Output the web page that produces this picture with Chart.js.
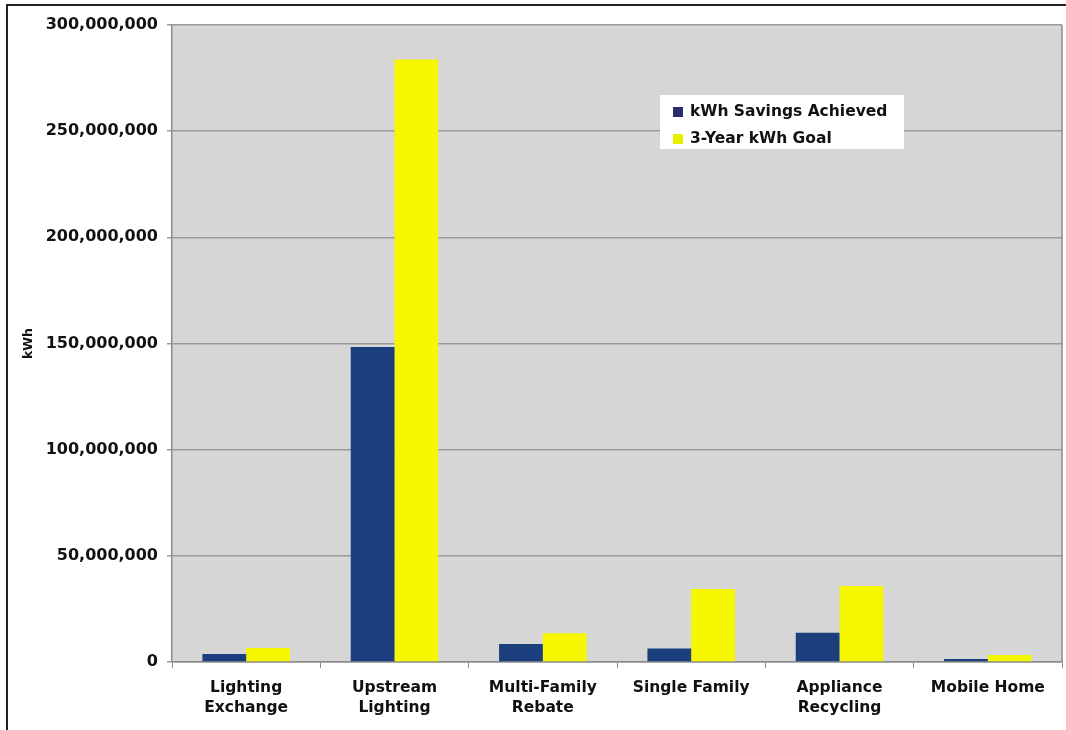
<!DOCTYPE html>
<html>
<head>
<meta charset="utf-8">
<script src="https://cdn.jsdelivr.net/npm/chart.js@4/dist/chart.umd.min.js"></script>
<style>
  body { margin: 0; background: #fff; }
  #wrap { position: relative; width: 1066px; height: 730px; }
  #frame { position: absolute; left: 6px; top: 4px; right: -10px; bottom: -10px;
           border-top: 2px solid #222; border-left: 2px solid #222; }
  canvas { position: absolute; left: 0; top: 0; }
</style>
</head>
<body>
<div id="wrap">
  <div id="frame"></div>
  <canvas id="chart" width="1066" height="730"></canvas>
</div>
<script>
const programas = [
  ["Lighting", "Exchange"],
  ["Upstream", "Lighting"],
  ["Multi-Family", "Rebate"],
  "Single Family",
  ["Appliance", "Recycling"],
  "Mobile Home",
];
const economiaAtingida = [3800000, 148400000, 8500000, 6400000, 13800000, 1400000];
const metaTresAnos = [6600000, 283800000, 13500000, 34400000, 35800000, 3300000];
const ticksY = [0, 50000000, 100000000, 150000000, 200000000, 250000000, 300000000];

const fonte = "'DejaVu Sans', Verdana, sans-serif";

// fundo cinza da area do grafico + borda
const fundoPlot = {
  id: "fundoPlot",
  beforeDraw(chart) {
    const { ctx, chartArea: a } = chart;
    ctx.save();
    ctx.fillStyle = "#d6d6d6";
    ctx.fillRect(a.left, a.top, a.right - a.left, a.bottom - a.top);
    ctx.restore();
  },
  afterDraw(chart) {
    const { ctx, chartArea: a } = chart;
    ctx.save();
    ctx.strokeStyle = "#8a8a8a";
    ctx.lineWidth = 1.5;
    ctx.beginPath();
    ctx.moveTo(a.right, a.top);
    ctx.lineTo(a.right, a.bottom);
    ctx.stroke();
    ctx.restore();
  },
};

// legenda dentro da area do grafico
const legendaInterna = {
  id: "legendaInterna",
  afterDatasetsDraw(chart) {
    const ctx = chart.ctx;
    const x = 660, y = 95, w = 244, h = 54;
    ctx.save();
    ctx.fillStyle = "#ffffff";
    ctx.fillRect(x, y, w, h);
    ctx.font = "bold 15.5px " + fonte;
    ctx.textBaseline = "middle";
    chart.data.datasets.forEach((ds, i) => {
      const cy = y + 17 + i * 27;
      ctx.fillStyle = ds.legendColor || ds.backgroundColor;
      ctx.fillRect(x + 13, cy - 5, 10, 10);
      ctx.fillStyle = "#111";
      ctx.fillText(ds.label, x + 30, cy);
    });
    ctx.restore();
  },
};

new Chart(document.getElementById("chart"), {
  type: "bar",
  data: {
    labels: programas,
    datasets: [
      {
        label: "kWh Savings Achieved",
        data: economiaAtingida,
        backgroundColor: "#1b3f7d",
        legendColor: "#2b2b72",
      },
      {
        label: "3-Year kWh Goal",
        data: metaTresAnos,
        backgroundColor: "#f7f700",
        legendColor: "#e6f000",
      },
    ],
  },
  options: {
    responsive: false,
    animation: false,
    categoryPercentage: 0.59,
    barPercentage: 1,
    layout: { padding: { left: 17, top: 25, right: 4, bottom: 0 } },
    plugins: {
      legend: { display: false },
      tooltip: { enabled: false },
    },
    scales: {
      x: {
        grid: {
          drawOnChartArea: false,
          color: "#8a8a8a",
          tickLength: 6,
        },
        border: { color: "#8a8a8a", width: 1.5 },
        ticks: {
          color: "#111",
          padding: 10,
          maxRotation: 0,
          autoSkip: false,
          font: { family: fonte, weight: "bold", size: 15.5, lineHeight: 1.29 },
        },
        afterFit(scale) { scale.height = 730 - 662; },
      },
      y: {
        min: 0,
        max: 300000000,
        afterBuildTicks(scale) { scale.ticks = ticksY.map(v => ({ value: v })); },
        grid: { color: "#9a9a9a", lineWidth: 1.5, tickLength: 5 },
        border: { color: "#8a8a8a", width: 1.5 },
        ticks: {
          color: "#111",
          padding: 9,
          font: { family: fonte, weight: "bold", size: 16 },
          callback: v => v.toLocaleString("en-US"),
        },
        title: {
          display: true,
          text: "kWh",
          color: "#111",
          font: { family: fonte, weight: "bold", size: 12.5 },
        },
        afterFit(scale) { scale.width = 172 - 17; },
      },
    },
  },
  plugins: [fundoPlot, legendaInterna],
});
</script>
</body>
</html>
